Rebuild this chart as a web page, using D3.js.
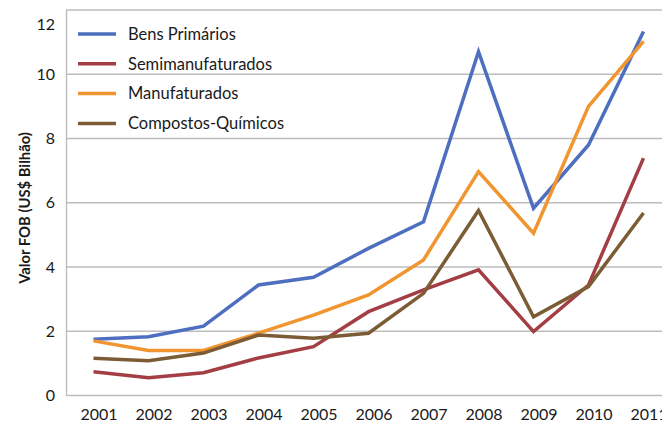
<!DOCTYPE html>
<html>
<head>
<meta charset="utf-8">
<script src="https://cdn.jsdelivr.net/npm/d3@7"></script>
<style>
  html, body { margin: 0; padding: 0; background: #fff; }
  svg { display: block; font-family: Lato, "Open Sans", sans-serif; }
</style>
</head>
<body>
<svg id="chart" width="662" height="423"></svg>
<script>
// Export values (FOB, US$ billion) by product group, 2001–2011
const years = ["2001","2002","2003","2004","2005","2006","2007","2008","2009","2010","2011"];
const bensPrimarios     = [1.75, 1.83, 2.16, 3.44, 3.68, 4.58, 5.41, 10.7, 5.83, 7.8, 11.33];
const semimanufaturados = [0.74, 0.55, 0.71, 1.17, 1.52, 2.61, 3.29, 3.91, 1.99, 3.44, 7.39];
const manufaturados     = [1.7, 1.4, 1.4, 1.94, 2.5, 3.13, 4.22, 6.97, 5.05, 9.0, 11.02];
const compostosQuimicos = [1.16, 1.08, 1.32, 1.88, 1.78, 1.94, 3.18, 5.76, 2.45, 3.39, 5.68];
const seriesNames = ["Bens Primários", "Semimanufaturados", "Manufaturados", "Compostos-Químicos"];
const seriesColors = ["#4e6ec0", "#a33f44", "#f0952f", "#7b5c35"];
const yTicks = [0, 2, 4, 6, 8, 10, 12];
const yTitle = "Valor FOB (US$ Bilhão)";

const series = [bensPrimarios, semimanufaturados, manufaturados, compostosQuimicos]
  .map((values, i) => ({ name: seriesNames[i], color: seriesColors[i], values }));

const svg = d3.select("#chart");
const plot = { left: 66, right: 671, top: 10, bottom: 395.5 };
const textColor = "#1a1a1a";

const x = d3.scalePoint().domain(years).range([plot.left, plot.right]).padding(0.5);
const y = d3.scaleLinear().domain([0, 12]).range([plot.bottom, plot.top]);

// horizontal gridlines
svg.append("g")
  .selectAll("line")
  .data(yTicks.filter(t => t > 0))
  .join("line")
  .attr("x1", plot.left).attr("x2", plot.right)
  .attr("y1", d => y(d)).attr("y2", d => y(d))
  .attr("stroke", "#bdbdbd").attr("stroke-width", 1.4);

// y axis
const yAxis = svg.append("g")
  .attr("transform", `translate(${plot.left},0)`)
  .call(d3.axisLeft(y).tickValues(yTicks).tickSize(0).tickPadding(11));
yAxis.select(".domain").attr("stroke", "#bdbdbd").attr("stroke-width", 1.4);
yAxis.selectAll("text")
  .attr("font-size", 16).attr("fill", textColor)
  .attr("font-family", "Lato, sans-serif")
  .attr("dy", d => d === 12 ? "1.2em" : "0.32em");

// x axis (the plot runs past the right edge, so the last year label is clipped)
const xAxis = svg.append("g")
  .attr("transform", `translate(0,${plot.bottom})`)
  .call(d3.axisBottom(x).tickSize(0).tickPadding(13));
xAxis.select(".domain").attr("d", `M${plot.left},0H${plot.right}`)
  .attr("stroke", "#bdbdbd").attr("stroke-width", 1.4);
xAxis.selectAll("text")
  .attr("font-size", 16).attr("fill", textColor)
  .attr("font-family", "Lato, sans-serif")
  .attr("dx", 5);

// y axis title
svg.append("text")
  .attr("transform", `translate(25,208) rotate(-90)`)
  .attr("dy", "0.35em")
  .attr("text-anchor", "middle")
  .attr("font-size", 14.8).attr("font-weight", "bold").attr("fill", textColor)
  .text(yTitle);

// series lines
const line = d3.line()
  .x((d, i) => x(years[i]))
  .y(d => y(d));

svg.append("g")
  .selectAll("path")
  .data(series)
  .join("path")
  .attr("d", d => line(d.values))
  .attr("fill", "none")
  .attr("stroke", d => d.color)
  .attr("stroke-width", 3.5)
  .attr("stroke-linejoin", "miter");

// legend
const legend = svg.append("g")
  .selectAll("g")
  .data(series)
  .join("g")
  .attr("transform", (d, i) => `translate(78,${34 + i * 29.8})`);
legend.append("line")
  .attr("x1", 0).attr("x2", 38)
  .attr("stroke", d => d.color).attr("stroke-width", 3.5);
legend.append("text")
  .attr("x", 50).attr("dy", "0.35em")
  .attr("font-size", 16.5).attr("fill", textColor)
  .text(d => d.name);
</script>
</body>
</html>
